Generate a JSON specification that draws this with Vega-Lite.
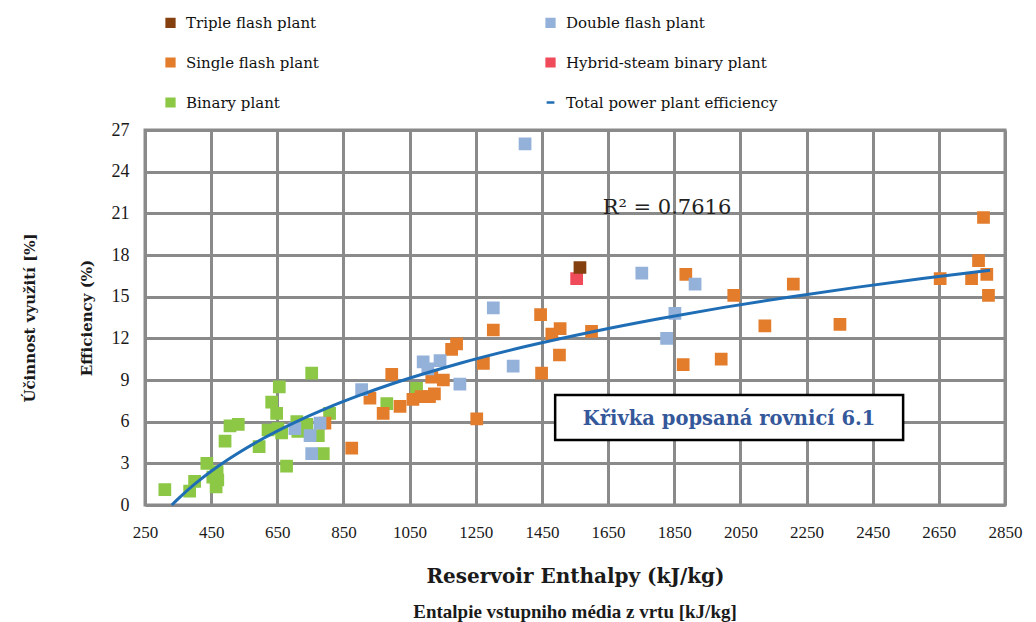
{
  "$schema": "https://vega.github.io/schema/vega-lite/v6.json",
  "autosize": "none",
  "width": 860,
  "height": 375,
  "padding": {"left": 145, "top": 130, "right": 31, "bottom": 117},
  "background": "white",
  "title": {"text": "Entalpie vstupniho média z vrtu [kJ/kg]", "orient": "bottom", "anchor": "middle", "font": "Liberation Serif", "fontSize": 19, "fontWeight": "bold", "color": "#1a1a1a", "offset": 17},
  "config": {
    "font": "DejaVu Serif",
    "view": {"stroke": "#8a8a8a", "strokeWidth": 3},
    "axis": {"labelColor": "#1a1a1a", "titleColor": "#1a1a1a", "grid": true, "gridColor": "#8a8a8a", "gridWidth": 3, "gridOpacity": 1, "domain": false, "ticks": false, "labelFlush": false}
  },
  "datasets": {
    "pts": [
      {"type": "Binary plant", "E": 310, "eff": 1.1},
      {"type": "Binary plant", "E": 385, "eff": 1.0},
      {"type": "Binary plant", "E": 400, "eff": 1.7},
      {"type": "Binary plant", "E": 437, "eff": 3.0},
      {"type": "Binary plant", "E": 455, "eff": 2.0},
      {"type": "Binary plant", "E": 465, "eff": 1.3},
      {"type": "Binary plant", "E": 468, "eff": 2.4},
      {"type": "Binary plant", "E": 470, "eff": 1.8},
      {"type": "Binary plant", "E": 492, "eff": 4.6},
      {"type": "Binary plant", "E": 507, "eff": 5.7},
      {"type": "Binary plant", "E": 532, "eff": 5.8},
      {"type": "Binary plant", "E": 595, "eff": 4.2},
      {"type": "Binary plant", "E": 622, "eff": 5.4},
      {"type": "Binary plant", "E": 633, "eff": 7.4},
      {"type": "Binary plant", "E": 648, "eff": 6.6},
      {"type": "Binary plant", "E": 652, "eff": 5.5},
      {"type": "Binary plant", "E": 656, "eff": 8.5},
      {"type": "Binary plant", "E": 663, "eff": 5.2},
      {"type": "Binary plant", "E": 678, "eff": 2.8},
      {"type": "Binary plant", "E": 709, "eff": 6.0},
      {"type": "Binary plant", "E": 712, "eff": 5.3},
      {"type": "Binary plant", "E": 739, "eff": 5.8},
      {"type": "Binary plant", "E": 754, "eff": 9.5},
      {"type": "Binary plant", "E": 774, "eff": 5.0},
      {"type": "Binary plant", "E": 789, "eff": 3.7},
      {"type": "Binary plant", "E": 808, "eff": 6.6},
      {"type": "Binary plant", "E": 981, "eff": 7.3},
      {"type": "Binary plant", "E": 1071, "eff": 8.4},
      {"type": "Single flash plant", "E": 794, "eff": 5.9},
      {"type": "Single flash plant", "E": 875, "eff": 4.1},
      {"type": "Single flash plant", "E": 930, "eff": 7.7},
      {"type": "Single flash plant", "E": 970, "eff": 6.6},
      {"type": "Single flash plant", "E": 996, "eff": 9.4},
      {"type": "Single flash plant", "E": 1021, "eff": 7.1},
      {"type": "Single flash plant", "E": 1060, "eff": 7.6},
      {"type": "Single flash plant", "E": 1085, "eff": 7.8},
      {"type": "Single flash plant", "E": 1110, "eff": 7.8},
      {"type": "Single flash plant", "E": 1125, "eff": 8.0},
      {"type": "Single flash plant", "E": 1117, "eff": 9.2},
      {"type": "Single flash plant", "E": 1152, "eff": 9.0},
      {"type": "Single flash plant", "E": 1177, "eff": 11.2},
      {"type": "Single flash plant", "E": 1192, "eff": 11.6},
      {"type": "Single flash plant", "E": 1253, "eff": 6.2},
      {"type": "Single flash plant", "E": 1273, "eff": 10.2},
      {"type": "Single flash plant", "E": 1303, "eff": 12.6},
      {"type": "Single flash plant", "E": 1446, "eff": 13.7},
      {"type": "Single flash plant", "E": 1449, "eff": 9.5},
      {"type": "Single flash plant", "E": 1480, "eff": 12.3},
      {"type": "Single flash plant", "E": 1505, "eff": 12.7},
      {"type": "Single flash plant", "E": 1503, "eff": 10.8},
      {"type": "Single flash plant", "E": 1600, "eff": 12.5},
      {"type": "Single flash plant", "E": 1877, "eff": 10.1},
      {"type": "Single flash plant", "E": 1885, "eff": 16.6},
      {"type": "Single flash plant", "E": 1992, "eff": 10.5},
      {"type": "Single flash plant", "E": 2030, "eff": 15.1},
      {"type": "Single flash plant", "E": 2124, "eff": 12.9},
      {"type": "Single flash plant", "E": 2210, "eff": 15.9},
      {"type": "Single flash plant", "E": 2351, "eff": 13.0},
      {"type": "Single flash plant", "E": 2654, "eff": 16.3},
      {"type": "Single flash plant", "E": 2749, "eff": 16.3},
      {"type": "Single flash plant", "E": 2770, "eff": 17.6},
      {"type": "Single flash plant", "E": 2785, "eff": 20.7},
      {"type": "Single flash plant", "E": 2795, "eff": 16.6},
      {"type": "Single flash plant", "E": 2800, "eff": 15.1},
      {"type": "Double flash plant", "E": 703, "eff": 5.5},
      {"type": "Double flash plant", "E": 749, "eff": 5.0},
      {"type": "Double flash plant", "E": 754, "eff": 3.7},
      {"type": "Double flash plant", "E": 779, "eff": 5.9},
      {"type": "Double flash plant", "E": 905, "eff": 8.3},
      {"type": "Double flash plant", "E": 1091, "eff": 10.3},
      {"type": "Double flash plant", "E": 1105, "eff": 9.8},
      {"type": "Double flash plant", "E": 1142, "eff": 10.4},
      {"type": "Double flash plant", "E": 1202, "eff": 8.7},
      {"type": "Double flash plant", "E": 1303, "eff": 14.2},
      {"type": "Double flash plant", "E": 1363, "eff": 10.0},
      {"type": "Double flash plant", "E": 1399, "eff": 26.0},
      {"type": "Double flash plant", "E": 1752, "eff": 16.7},
      {"type": "Double flash plant", "E": 1827, "eff": 12.0},
      {"type": "Double flash plant", "E": 1852, "eff": 13.8},
      {"type": "Double flash plant", "E": 1913, "eff": 15.9},
      {"type": "Hybrid-steam binary plant", "E": 1555, "eff": 16.3},
      {"type": "Triple flash plant", "E": 1565, "eff": 17.1}
    ],
    "curve": [
      {"E": 331, "eff": 0},
      {"E": 350, "eff": 0.44},
      {"E": 400, "eff": 1.5},
      {"E": 450, "eff": 2.43},
      {"E": 500, "eff": 3.26},
      {"E": 600, "eff": 4.7},
      {"E": 700, "eff": 5.92},
      {"E": 800, "eff": 6.98},
      {"E": 900, "eff": 7.91},
      {"E": 1000, "eff": 8.75},
      {"E": 1200, "eff": 10.19},
      {"E": 1400, "eff": 11.41},
      {"E": 1600, "eff": 12.46},
      {"E": 1800, "eff": 13.39},
      {"E": 2000, "eff": 14.23},
      {"E": 2200, "eff": 14.98},
      {"E": 2400, "eff": 15.67},
      {"E": 2600, "eff": 16.3},
      {"E": 2805, "eff": 16.9}
    ],
    "notes": [
      {"label": "R² = 0.7616", "E": 1828, "eff": 21.4}
    ],
    "box": [
      {"label": "Křivka popsaná rovnicí 6.1", "E1": 1490, "E2": 2542, "y1": 4.68, "y2": 7.92, "Em": 2016, "ym": 6.2}
    ]
  },
  "layer": [
    {
      "data": {"name": "pts"},
      "mark": {"type": "point", "shape": "square", "filled": true, "size": 115, "opacity": 1},
      "encoding": {
        "x": {"field": "E", "type": "quantitative", "scale": {"domain": [250, 2850], "nice": false, "zero": false},
          "axis": {"values": [250, 450, 650, 850, 1050, 1250, 1450, 1650, 1850, 2050, 2250, 2450, 2650, 2850], "format": "d", "labelFont": "Liberation Serif", "labelFontSize": 17, "labelPadding": 19, "title": "Reservoir Enthalpy (kJ/kg)", "titleFont": "DejaVu Serif", "titleFontSize": 20, "titleFontWeight": "bold", "titlePadding": 26}},
        "y": {"field": "eff", "type": "quantitative", "scale": {"domain": [0, 27], "nice": false},
          "axis": {"values": [0, 3, 6, 9, 12, 15, 18, 21, 24, 27], "format": "d", "labelFont": "Liberation Serif", "labelFontSize": 18, "labelPadding": 16, "title": ["Účinnost využití [%]", "Efficiency (%)"], "titleFont": "DejaVu Serif", "titleFontSize": 15, "titleFontWeight": "bold", "titleLineHeight": 57, "titlePadding": 17}},
        "color": {"field": "type", "type": "nominal",
          "scale": {"domain": ["Triple flash plant", "Double flash plant", "Single flash plant", "Hybrid-steam binary plant", "Binary plant", "Total power plant efficiency"],
                    "range": ["#84400f", "#93b1d9", "#e37d2c", "#f04b5a", "#8cc845", "#1f6eb5"]},
          "legend": {"orient": "none", "legendX": 18, "legendY": -115, "columns": 2, "direction": "horizontal", "title": null, "padding": 0,
            "labelFont": "DejaVu Serif", "labelFontSize": 15, "labelColor": "#111", "labelOffset": 8, "labelLimit": 0, "columnPadding": 222, "rowPadding": 21, "symbolSize": 60, "symbolStrokeWidth": 2.5}},
        "stroke": {"field": "type", "type": "nominal",
          "scale": {"domain": ["Triple flash plant", "Double flash plant", "Single flash plant", "Hybrid-steam binary plant", "Binary plant", "Total power plant efficiency"],
                    "range": ["#84400f", "#93b1d9", "#e37d2c", "#f04b5a", "#8cc845", "#1f6eb5"]},
          "legend": {"orient": "none", "legendX": 18, "legendY": -115, "columns": 2, "direction": "horizontal", "title": null, "padding": 0,
            "labelFont": "DejaVu Serif", "labelFontSize": 15, "labelColor": "#111", "labelOffset": 8, "labelLimit": 0, "columnPadding": 222, "rowPadding": 21, "symbolSize": 60, "symbolStrokeWidth": 2.5}},
        "shape": {"field": "type", "type": "nominal",
          "scale": {"domain": ["Triple flash plant", "Double flash plant", "Single flash plant", "Hybrid-steam binary plant", "Binary plant", "Total power plant efficiency"],
                    "range": ["square", "square", "square", "square", "square", "stroke"]},
          "legend": {"orient": "none", "legendX": 18, "legendY": -115, "columns": 2, "direction": "horizontal", "title": null, "padding": 0,
            "labelFont": "DejaVu Serif", "labelFontSize": 15, "labelColor": "#111", "labelOffset": 8, "labelLimit": 0, "columnPadding": 222, "rowPadding": 21, "symbolSize": 60, "symbolStrokeWidth": 2.5}}
      }
    },
    {
      "data": {"name": "curve"},
      "mark": {"type": "line", "color": "#1f6eb5", "strokeWidth": 3, "interpolate": "monotone"},
      "encoding": {
        "x": {"field": "E", "type": "quantitative"},
        "y": {"field": "eff", "type": "quantitative"}
      }
    },
    {
      "data": {"name": "notes"},
      "mark": {"type": "text", "font": "DejaVu Serif", "fontSize": 21, "color": "#222"},
      "encoding": {
        "x": {"field": "E", "type": "quantitative"},
        "y": {"field": "eff", "type": "quantitative"},
        "text": {"field": "label"}
      }
    },
    {
      "data": {"name": "box"},
      "mark": {"type": "rect", "fill": "white", "stroke": "black", "strokeWidth": 2.5},
      "encoding": {
        "x": {"field": "E1", "type": "quantitative"},
        "x2": {"field": "E2"},
        "y": {"field": "y1", "type": "quantitative"},
        "y2": {"field": "y2"}
      }
    },
    {
      "data": {"name": "box"},
      "mark": {"type": "text", "font": "DejaVu Serif", "fontSize": 19.5, "fontWeight": "bold", "color": "#34589a"},
      "encoding": {
        "x": {"field": "Em", "type": "quantitative"},
        "y": {"field": "ym", "type": "quantitative"},
        "text": {"field": "label"}
      }
    }
  ]
}
